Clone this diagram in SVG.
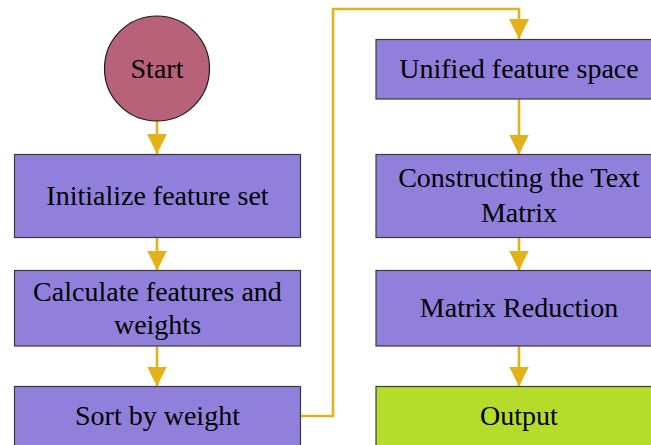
<svg xmlns="http://www.w3.org/2000/svg" width="651" height="445" viewBox="0 0 651 445">
  <style>
    .box { fill: #9080dc; stroke: #3a3a3a; stroke-width: 1.2; }
    .out { fill: #b5dc2b; stroke: #3a3a3a; stroke-width: 1.2; }
    .start { fill: #b8627a; stroke: #1a1a1a; stroke-width: 1.2; }
    .lbl { font-family: "Liberation Serif", "Times New Roman", serif; font-size: 28px; fill: #000; text-anchor: middle; }
    .wire { fill: none; stroke: #e3b11a; stroke-width: 2.6; }
    .head { fill: #e3b11a; }
  </style>
  <defs>
    <marker id="arrow" markerUnits="userSpaceOnUse" markerWidth="20" markerHeight="20" viewBox="0 0 20 20" refX="20" refY="10" orient="auto">
      <path class="head" d="M0,0 L20,10 L0,20 Z"/>
    </marker>
  </defs>
  <rect width="651" height="445" fill="#ffffff"/>

  <!-- connectors -->
  <g id="connectors">
    <path class="wire" d="M157,121 V154" marker-end="url(#arrow)"/>
    <path class="wire" d="M157,238 V270.5" marker-end="url(#arrow)"/>
    <path class="wire" d="M157,346 V386.5" marker-end="url(#arrow)"/>
    <path class="wire" d="M300,416 H333 V9 H519 V39" marker-end="url(#arrow)"/>
    <path class="wire" d="M519,99 V154.5" marker-end="url(#arrow)"/>
    <path class="wire" d="M519,238 V270.5" marker-end="url(#arrow)"/>
    <path class="wire" d="M519,346 V386.5" marker-end="url(#arrow)"/>
  </g>

  <!-- left column -->
  <g id="start">
    <circle class="start" cx="157" cy="68.5" r="52.5"/>
    <text class="lbl" x="157" y="77.5">Start</text>
  </g>
  <g id="init">
    <rect class="box" x="14.5" y="154.5" width="286" height="83"/>
    <text class="lbl" x="157.5" y="205">Initialize feature set</text>
  </g>
  <g id="calc">
    <rect class="box" x="14.5" y="270.5" width="286" height="75.5"/>
    <text class="lbl" x="157.5" y="300.5">Calculate features and</text>
    <text class="lbl" x="157.5" y="334">weights</text>
  </g>
  <g id="sort">
    <rect class="box" x="14.5" y="386.5" width="286" height="62"/>
    <text class="lbl" x="157.5" y="425">Sort by weight</text>
  </g>

  <!-- right column -->
  <g id="unified">
    <rect class="box" x="376" y="39.5" width="286" height="59.5"/>
    <text class="lbl" x="519" y="77.5">Unified feature space</text>
  </g>
  <g id="construct">
    <rect class="box" x="376" y="154.5" width="286" height="83"/>
    <text class="lbl" x="519" y="187">Constructing the Text</text>
    <text class="lbl" x="519" y="221.5">Matrix</text>
  </g>
  <g id="reduce">
    <rect class="box" x="376" y="270.5" width="286" height="75.5"/>
    <text class="lbl" x="519" y="316.5">Matrix Reduction</text>
  </g>
  <g id="output">
    <rect class="out" x="376" y="386.5" width="286" height="62"/>
    <text class="lbl" x="519" y="425">Output</text>
  </g>
</svg>
